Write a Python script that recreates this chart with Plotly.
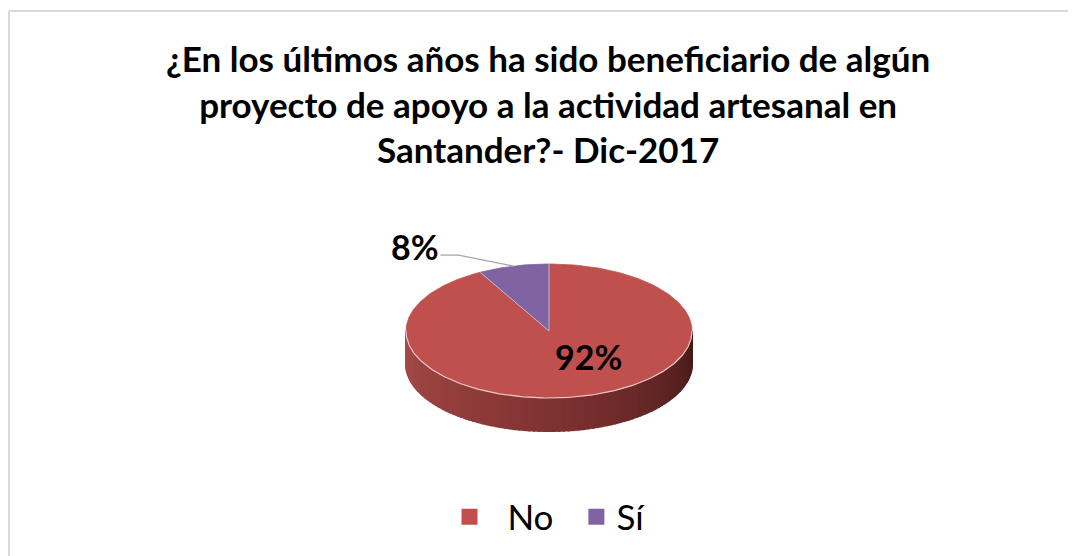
import numpy as np
import plotly.graph_objects as go

# ---- data ----
categories = ["No", "Sí"]
values = [92, 8]
colors = ["#C0504D", "#8064A2"]
title_lines = ["¿En los últimos años ha sido beneficiario de algún",
               "proyecto de apoyo a la actividad artesanal en",
               "Santander?- Dic-2017"]

# ---- layout parameters (pixel space of the page) ----
W, H = 1076, 556
OFF = 8  # default page body margin
FW, FH = W - OFF, H - OFF
CX, CY, RX, RY, DEPTH = 549, 331, 143, 67, 33

total = sum(values)
fracs = [v / total for v in values]

def ell(theta_deg, k=1.0, dy=0.0):
    # theta measured clockwise from 12 o'clock
    t = np.radians(theta_deg)
    return CX + k * RX * np.sin(t), CY - k * RY * np.cos(t) + dy

fig = go.Figure()

def lerp(c1, c2, a):
    return tuple(int(round(c1[i] + (c2[i] - c1[i]) * a)) for i in range(3))

left_col = (0xA8, 0x4B, 0x49)
mid_col = (0x80, 0x33, 0x31)
right_col = (0x48, 0x1B, 0x1B)
N = 90
angles = np.linspace(270, 90, N + 1)  # left, through bottom, to right
for i in range(N):
    a0, a1 = angles[i], angles[i + 1]
    ts = np.linspace(a0, a1, 4)
    xs_top, ys_top = ell(ts)
    xs_bot, ys_bot = ell(ts[::-1], dy=DEPTH)
    xs = list(xs_top) + list(xs_bot) + [xs_top[0]]
    ys = list(ys_top) + list(ys_bot) + [ys_top[0]]
    pos = i / (N - 1)
    c = lerp(left_col, mid_col, pos * 2) if pos < 0.5 else lerp(mid_col, right_col, (pos - 0.5) * 2)
    col = "rgb(%d,%d,%d)" % c
    fig.add_trace(go.Scatter(x=xs, y=ys, mode="lines", fill="toself",
                             fillcolor=col, line=dict(color=col, width=2),
                             hoverinfo="skip", showlegend=False))

# top slices: first slice starts at 12 o'clock going clockwise
start = 0.0
mids = []
for cat, f, col in zip(categories, fracs, colors):
    end = start + f * 360
    ts = np.linspace(start, end, max(int(f * 360), 2) + 1)
    xs, ys = ell(ts)
    fig.add_trace(go.Scatter(x=[CX] + list(xs) + [CX], y=[CY] + list(ys) + [CY],
                             mode="lines", fill="toself", fillcolor=col,
                             line=dict(color=col, width=0.8),
                             hoverinfo="skip", showlegend=False))
    mids.append((start + end) / 2)
    start = end

# light edge on the front rim of the top face
ts = np.linspace(90, 270, 200)
xs, ys = ell(ts)
fig.add_trace(go.Scatter(x=xs, y=ys, mode="lines",
                         line=dict(color="rgba(240,215,215,0.9)", width=1.2),
                         hoverinfo="skip", showlegend=False))
bx, by = ell(0)
bx2, by2 = ell(fracs[0] * 360)
fig.add_trace(go.Scatter(x=[bx, CX, bx2], y=[by, CY, by2], mode="lines",
                         line=dict(color="rgba(235,225,235,0.8)", width=0.8),
                         hoverinfo="skip", showlegend=False))

# legend entries
for j, (cat, col) in enumerate(zip(categories, colors)):
    label = ("\u00a0\u00a0" + cat + "\u00a0\u00a0") if j == 0 else cat
    fig.add_trace(go.Scatter(x=[None], y=[None], mode="markers", name=label,
                             marker=dict(symbol="square", size=18, color=col)))

# labels
pct = [f"{round(f*100)}%" for f in fracs]
lx, ly = ell(mids[0], k=0.55)
fig.add_annotation(x=lx + 20, y=ly - 10, text=f"<b>{pct[0]}</b>", showarrow=False,
                   font=dict(size=34, color="black", family="Lato"))
px_, py_ = ell(mids[1])
elbow = (px_ - 55, py_ - 11)
end_ = (px_ - 73, py_ - 11)
fig.add_trace(go.Scatter(x=[px_, elbow[0], end_[0]], y=[py_, elbow[1], end_[1]],
                         mode="lines", line=dict(color="#A6A6A6", width=1.3),
                         hoverinfo="skip", showlegend=False))
fig.add_annotation(x=end_[0] + 1, y=end_[1] - 9, text=f"<b>{pct[1]}</b>", showarrow=False,
                   xanchor="right", font=dict(size=34, color="black", family="Lato"))

# title
fig.add_annotation(x=548, y=103, text="<b>" + "<br>".join(title_lines) + "</b>",
                   showarrow=False, yanchor="middle",
                   font=dict(size=35, color="black", family="Lato"))
fig.update_annotations(yref="y", xref="x")

# chart border (top and left edges visible in the frame)
fig.add_shape(type="line", xref="x", yref="y", x0=9, y0=11, x1=W + 20, y1=11,
              line=dict(color="#D9D9D9", width=2), layer="above")
fig.add_shape(type="line", xref="x", yref="y", x0=9, y0=11, x1=9, y1=H + 20,
              line=dict(color="#D9D9D9", width=2), layer="above")

fig.update_layout(
    width=FW, height=FH, margin=dict(l=0, r=0, t=0, b=0),
    paper_bgcolor="white", plot_bgcolor="white",
    xaxis=dict(range=[OFF, W], visible=False, fixedrange=True),
    yaxis=dict(range=[H, OFF], visible=False, fixedrange=True),
    showlegend=True,
    legend=dict(orientation="h", x=(550 - OFF) / FW, xanchor="center",
                y=1 - (517 - OFF) / FH, yanchor="middle",
                font=dict(size=35, family="Lato", color="black"),
                itemsizing="trace", bgcolor="rgba(0,0,0,0)", itemwidth=30),
)

fig.write_html("out.html")
